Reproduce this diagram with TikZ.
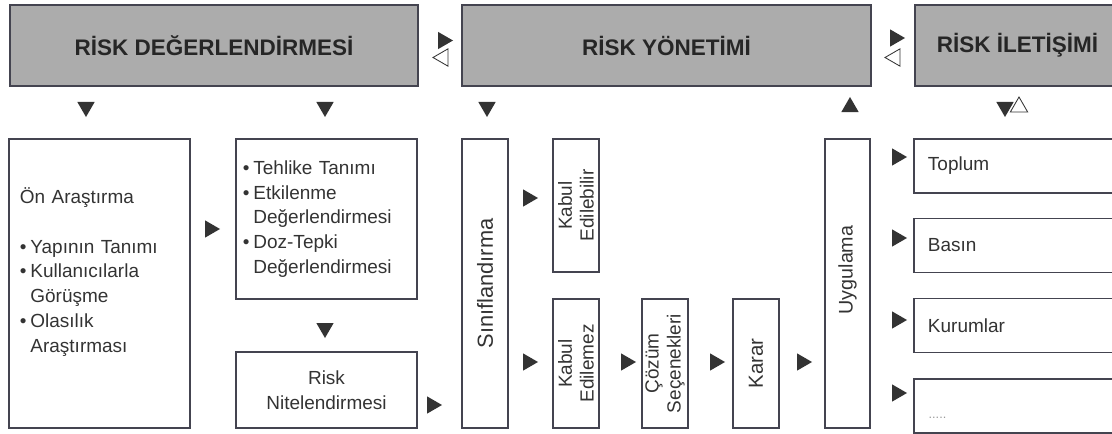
\documentclass[tikz,border=0pt]{standalone}
\usepackage{fontspec}
\setmainfont{Liberation Sans}
\usetikzlibrary{shapes.geometric}
\definecolor{headgray}{RGB}{172,172,172}
\definecolor{linegray}{RGB}{68,68,80}
\newcommand{\blt}{\makebox[0.55em][l]{\textbullet}}
\newcommand{\hng}{\hspace*{0.55em}}

\begin{document}
\begin{tikzpicture}[x=0.025cm,y=-0.025cm,line width=1pt,
  font=\fontsize{13.5}{17.7}\selectfont,
  head/.style={draw=linegray,fill=headgray,inner sep=0pt,text=black!85,
    font=\bfseries\fontsize{16}{18}\selectfont},
  box/.style={draw=linegray,inner sep=0pt,text=black!80},
  vbox/.style={box,rotate=90,align=center,font=\fontsize{13.5}{15.5}\selectfont},
  tri/.style={regular polygon,regular polygon sides=3,fill=black!80,
    inner sep=0pt,minimum size=0.5cm},
  otri/.style={tri,fill=white,draw=black!80,line width=0.6pt}]

\useasboundingbox (0,0) rectangle (1112,434);
\clip (0,0) rectangle (1112,434);

\node[head,minimum width=10.2cm,minimum height=2.025cm] (degr) at (214,45.5) {RİSK DEĞERLENDİRMESİ};
\node[head,minimum width=10.225cm,minimum height=2.025cm] (yonet) at (666.5,45.5) {RİSK YÖNETİMİ};
\node[head,minimum width=5.125cm,minimum height=2.025cm] (ilet) at (1017.5,45.5) {RİSK İLETİŞİMİ};

\node[tri,rotate=-90] (t1) at (443,40.5) {};
\node[otri,rotate=90] (t2) at (443,57.5) {};
\node[tri,rotate=-90] (t3) at (895,38) {};
\node[otri,rotate=90] (t4) at (895,57.5) {};

\node[tri,rotate=180] (d1) at (86,107) {};
\node[tri,rotate=180] (d2) at (325,107) {};
\node[tri,rotate=180] (d3) at (487,107) {};
\node[tri] (u1) at (850,107) {};
\node[tri,rotate=180] (d4) at (1005,107) {};
\node[otri] (u2) at (1019,107) {};

\node[box,minimum width=4.525cm,minimum height=7.225cm] (onar) at (99.5,283.5) {};
\node[text=black!80,text width=3.975cm,align=left,inner sep=0pt] (onart) at (99.5,272) {Ön Araştırma\\[17.7pt]
  \blt Yapının Tanımı\\ \blt Kullanıcılarla\\ \hng Görüşme\\ \blt Olasılık\\ \hng Araştırması};

\node[box,minimum width=4.525cm,minimum height=4cm,text width=4.175cm,align=left] (tehl) at (326.5,219)
  {\blt Tehlike Tanımı\\ \blt Etkilenme\\ \hng Değerlendirmesi\\ \blt Doz-Tepki\\ \hng Değerlendirmesi};
\node[box,minimum width=4.525cm,minimum height=1.9cm,align=center] (nitel) at (326.5,390) {Risk\\Nitelendirmesi};

\node[vbox,minimum width=7.225cm,minimum height=1.15cm,font=\fontsize{15.5}{17}\selectfont] (sinif) at (485,283.5) {Sınıflandırma};
\node[vbox,minimum width=3.325cm,minimum height=1.15cm] (kabul) at (576,205.5) {Kabul\\Edilebilir};
\node[vbox,minimum width=3.225cm,minimum height=1.15cm] (kabulz) at (576,363.5) {Kabul\\Edilemez};
\node[vbox,minimum width=3.225cm,minimum height=1.15cm] (cozum) at (665,363.5) {Çözüm\\Seçenekleri};
\node[vbox,minimum width=3.225cm,minimum height=1.15cm,font=\fontsize{14.5}{16}\selectfont] (karar) at (756,363.5) {Karar};
\node[box,minimum width=1.125cm,minimum height=7.225cm] (uygu) at (847.5,283.5) {};
\node[rotate=90,text=black!80,font=\fontsize{14}{16}\selectfont] (uygut) at (847.5,270) {Uygulama};

\node[box,minimum width=5.15cm,minimum height=1.35cm,text width=4.45cm,align=left] (topl) at (1017,166) {Toplum};
\node[box,minimum width=5.15cm,minimum height=1.35cm,text width=4.45cm,align=left] (basin) at (1017,245.5) {Basın};
\node[box,minimum width=5.15cm,minimum height=1.35cm,text width=4.45cm,align=left] (kurum) at (1017,325.5) {Kurumlar};
\node[box,minimum width=5.15cm,minimum height=1.35cm] (diger) at (1017,406) {};
\node[anchor=west,inner sep=0pt,text=black!40,font=\small] (digert) at (928,418) {.....};

\node[tri,rotate=-90] (r1) at (210,229) {};
\node[tri,rotate=180] (d5) at (325,328) {};
\node[tri,rotate=-90] (r2) at (432,405) {};
\node[tri,rotate=-90] (r3) at (528,198) {};
\node[tri,rotate=-90] (r4) at (528,362) {};
\node[tri,rotate=-90] (r5) at (626,362) {};
\node[tri,rotate=-90] (r6) at (715,362) {};
\node[tri,rotate=-90] (r7) at (802,362) {};
\node[tri,rotate=-90] (r8) at (897,157) {};
\node[tri,rotate=-90] (r9) at (897,238) {};
\node[tri,rotate=-90] (r10) at (897,320) {};
\node[tri,rotate=-90] (r11) at (897,393) {};

\end{tikzpicture}
\end{document}
